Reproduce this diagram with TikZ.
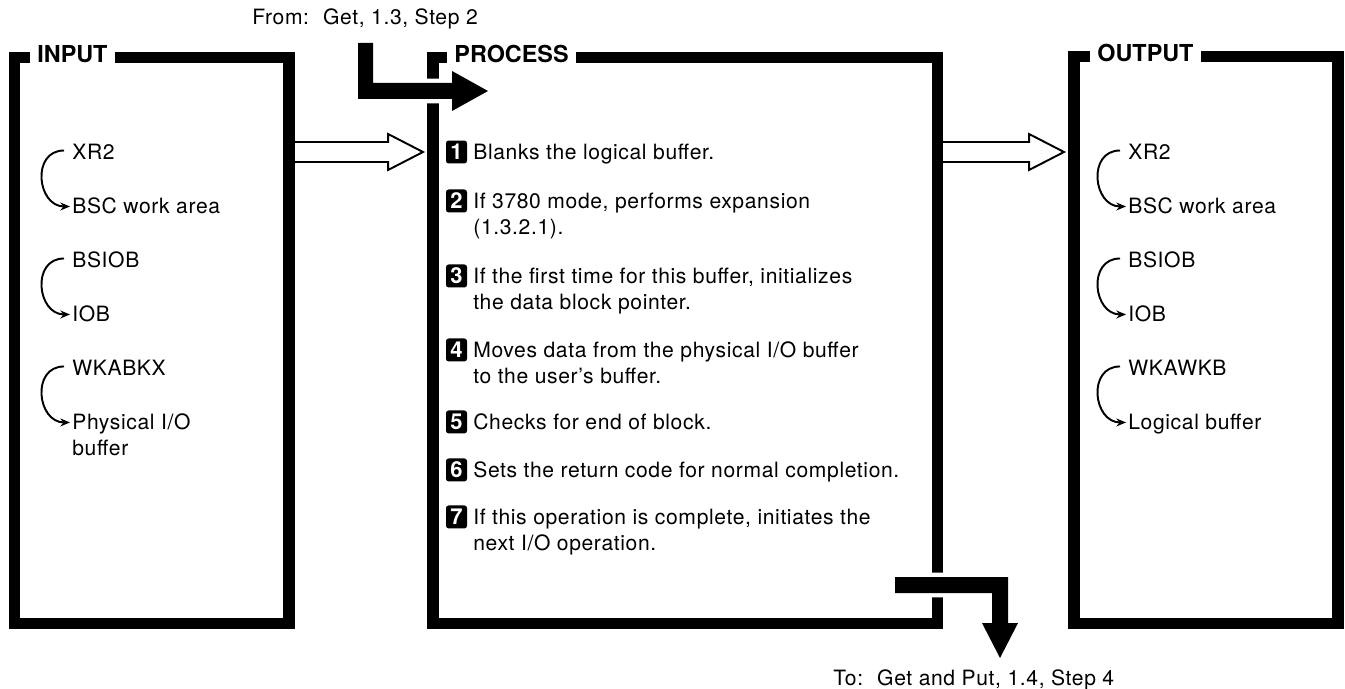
\documentclass[tikz,border=0pt]{standalone}
\usepackage{fontspec}
\setmainfont{TeX Gyre Heros}[LetterSpace=3]
\newfontfamily\headfont{TeX Gyre Heros}
\usetikzlibrary{positioning, calc, arrows.meta}

\tikzset{
  frame/.style   = {draw, line width=6.5pt, outer sep=0pt, inner sep=0pt},
  head/.style    = {fill=white, anchor=base west, inner xsep=4pt, inner ysep=2pt,
                    font=\headfont\fontsize{13.3pt}{16pt}\selectfont\bfseries},
  reg/.style     = {anchor=base west, inner sep=0pt, align=left,
                    font=\fontsize{12pt}{14.7pt}\selectfont},
  lbl/.style     = {anchor=base west, inner sep=0pt,
                    font=\fontsize{12pt}{14.7pt}\selectfont},
  nextrow/.style = {below=#1, anchor=base west},
  nbox/.style    = {fill=black, text=white, rounded corners=1.5pt, inner sep=0pt,
                    minimum width=0.42cm, minimum height=0.46cm,
                    font=\headfont\fontsize{12.5pt}{12.5pt}\selectfont\bfseries},
  curl/.style    = {line width=1.1pt, -{Stealth[length=5.5pt, width=4.5pt]}},
  blockarrow/.style = {fill=black, preaction={draw=white, line width=5pt, line join=round}},
  hollow/.style  = {draw, line width=1.1pt, line join=miter,
                    to path={($(\tikztostart)+(0,-10)$) -- ($(\tikztotarget)+(-45,-10)$)
                             -- ($(\tikztotarget)+(-45,-18)$) -- ($(\tikztotarget)+(-10,0)$)
                             -- ($(\tikztotarget)+(-45,18)$) -- ($(\tikztotarget)+(-45,10)$)
                             -- ($(\tikztostart)+(0,10)$)}}
}

\begin{document}
\begin{tikzpicture}[x=0.02cm, y=-0.02cm]
  \useasboundingbox (0,0) rectangle (1345,689);

  %% Boxes
  \node[frame, minimum width=5.49cm, minimum height=11.32cm] (inbox) at (151.75,340.5) {};
  \node[frame, minimum width=10.09cm, minimum height=11.32cm] (pbox) at (685.25,340.5) {};
  \node[frame, minimum width=5.28cm, minimum height=11.34cm] (obox) at (1206,340) {};
  \node[head] (inhead) at ($(inbox.north west)+(15.5,4.5)$) {INPUT};
  \node[head] (phead) at ($(pbox.north west)+(14,4.5)$) {PROCESS};
  \node[head] (ohead) at ($(obox.north west)+(16,4.5)$) {OUTPUT};

  %% Input
  \node[reg] (xrA) at (72,159.5) {XR2};
  \node[reg, nextrow={1.08cm of xrA.base west}] (bscA) {BSC work area};
  \node[reg, nextrow={1.08cm of bscA.base west}] (bsA) {BSIOB};
  \node[reg, nextrow={1.08cm of bsA.base west}] (iobA) {IOB};
  \node[reg, nextrow={1.08cm of iobA.base west}] (wkA) {WKABKX};
  \node[reg, nextrow={1.6cm of wkA.base west}] (pyA) {Physical I/O\\buffer};

  \draw[curl] ([shift={(-0.16cm,0.18cm)}]xrA.base west) to[out=180, in=180, looseness=1.5]
              ([shift={(-0.04cm,0.14cm)}]bscA.base west);
  \draw[curl] ([shift={(-0.16cm,0.18cm)}]bsA.base west) to[out=180, in=180, looseness=1.5]
              ([shift={(-0.04cm,0.14cm)}]iobA.base west);
  \draw[curl] ([shift={(-0.16cm,0.18cm)}]wkA.base west) to[out=180, in=180, looseness=1.5]
              ([shift={(-0.04cm,0.66cm)}]pyA.base west);

  %% Process
  \node[reg] (t1) at (473,159.5) {Blanks the logical buffer.};
  \node[reg, nextrow={1.5cm of t1.base west}] (t2) {If 3780 mode, performs expansion\\(1.3.2.1).};
  \node[reg, nextrow={1.5cm of t2.base west}] (t3)
        {If the first time for this buffer, initializes\\the data block pointer.};
  \node[reg, nextrow={1.48cm of t3.base west}] (t4)
        {Moves data from the physical I/O buffer\\to the user's buffer.};
  \node[reg, nextrow={0.92cm of t4.base west}] (t5) {Checks for end of block.};
  \node[reg, nextrow={0.96cm of t5.base west}] (t6) {Sets the return code for normal completion.};
  \node[reg, nextrow={1.46cm of t6.base west}] (t7)
        {If this operation is complete, initiates the\\next I/O operation.};

  \node[nbox] (n1) at ($(t1.base west)+(-16.5,-7.5)$) {1};
  \node[nbox] (n2) at ($(t2.base west)+(-16.5,-33.5)$) {2};
  \node[nbox] (n3) at ($(t3.base west)+(-16.5,-33.5)$) {3};
  \node[nbox] (n4) at ($(t4.base west)+(-16.5,-33.5)$) {4};
  \node[nbox] (n5) at ($(t5.base west)+(-16.5,-7.5)$) {5};
  \node[nbox] (n6) at ($(t6.base west)+(-16.5,-7.5)$) {6};
  \node[nbox] (n7) at ($(t7.base west)+(-16.5,-33.5)$) {7};

  %% Output
  \node[reg] (xrB) at (1128,159.5) {XR2};
  \node[reg, nextrow={1.08cm of xrB.base west}] (bscB) {BSC work area};
  \node[reg, nextrow={1.08cm of bscB.base west}] (bsB) {BSIOB};
  \node[reg, nextrow={1.08cm of bsB.base west}] (iobB) {IOB};
  \node[reg, nextrow={1.08cm of iobB.base west}] (wkB) {WKAWKB};
  \node[reg, nextrow={1.08cm of wkB.base west}] (lgB) {Logical buffer};

  \draw[curl] ([shift={(-0.16cm,0.18cm)}]xrB.base west) to[out=180, in=180, looseness=1.5]
              ([shift={(-0.04cm,0.14cm)}]bscB.base west);
  \draw[curl] ([shift={(-0.16cm,0.18cm)}]bsB.base west) to[out=180, in=180, looseness=1.5]
              ([shift={(-0.04cm,0.14cm)}]iobB.base west);
  \draw[curl] ([shift={(-0.16cm,0.18cm)}]wkB.base west) to[out=180, in=180, looseness=1.5]
              ([shift={(-0.04cm,0.14cm)}]lgB.base west);

  %% Data flow
  \coordinate (arrowrow) at (0,152);
  \draw[hollow] (inbox.east |- arrowrow) to (pbox.west |- arrowrow);
  \draw[hollow] (pbox.east |- arrowrow) to (obox.west |- arrowrow);

  %% Entry and exit
  \node[lbl] (fromlbl) at (252,25) {From:\hspace{8pt}Get, 1.3, Step 2};
  \fill[blockarrow] (358,43) -- (373,43) -- (373,83) -- (452,83) -- (452,71) -- (488,91)
                    -- (452,111) -- (452,99) -- (358,99) -- cycle;
  \fill[blockarrow] (895,577) -- (1008,577) -- (1008,623) -- (1018,623) -- (1000,658)
                    -- (982,623) -- (992,623) -- (992,593) -- (895,593) -- cycle;
  \node[lbl] (tolbl) at (833,685) {To:\hspace{8pt}Get and Put, 1.4, Step 4};

\end{tikzpicture}
\end{document}
